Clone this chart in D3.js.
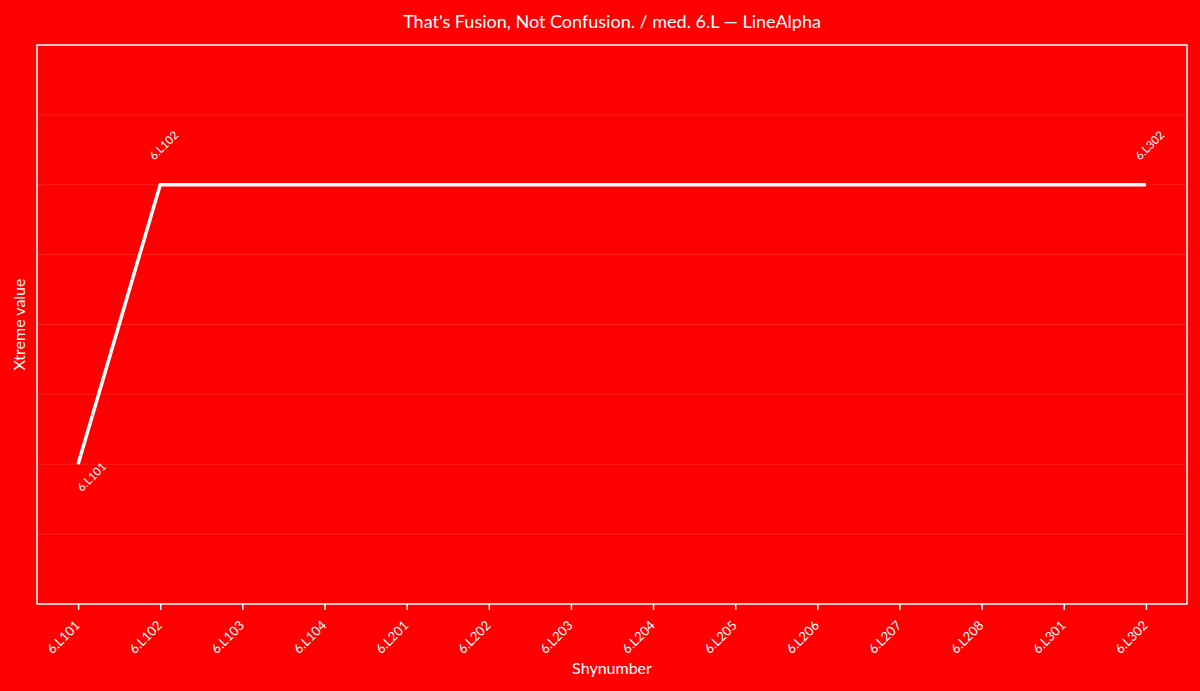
<!DOCTYPE html>
<html>
<head>
<meta charset="utf-8">
<script src="https://cdn.jsdelivr.net/npm/d3@7"></script>
<style>
  body { margin: 0; background: #ff0000; }
  svg text { font-family: "Source Sans Pro", Lato, "Noto Sans", sans-serif; fill: #fff; }
</style>
</head>
<body>
<div id="chart"></div>
<script>

// categories on the x axis
var shynumbers = ["6.L101", "6.L102", "6.L103", "6.L104", "6.L201", "6.L202", "6.L203",
	"6.L204", "6.L205", "6.L206", "6.L207", "6.L208", "6.L301", "6.L302"];

// the points that were drawn
var pointNames  = ["6.L101", "6.L102", "6.L302"];
var pointValues = [2, 6, 6];

var yDomain = [0, 8];
var yTicks  = [1, 2, 3, 4, 5, 6, 7];

var width  = 1200;
var height = 691;
var margin = {top: 45, right: 13, bottom: 87, left: 37};

var svg = d3.select("#chart")
	.append("svg")
	.attr("width", width)
	.attr("height", height);

svg.append("rect")
	.attr("width", width)
	.attr("height", height)
	.attr("fill", "#ff0000");

var x = d3.scalePoint()
	.domain(shynumbers)
	.range([margin.left, width - margin.right])
	.padding(0.5);

var y = d3.scaleLinear()
	.domain(yDomain)
	.range([height - margin.bottom, margin.top]);

// gridlines
svg.append("g")
	.selectAll("line")
	.data(yTicks)
	.enter().append("line")
	.attr("x1", margin.left)
	.attr("x2", width - margin.right)
	.attr("y1", function(d) { return y(d); })
	.attr("y2", function(d) { return y(d); })
	.attr("stroke", "#ffffff")
	.attr("stroke-opacity", 0.12)
	.attr("stroke-width", 1);

// frame
svg.append("rect")
	.attr("x", margin.left)
	.attr("y", margin.top)
	.attr("width", width - margin.left - margin.right)
	.attr("height", height - margin.top - margin.bottom)
	.attr("fill", "none")
	.attr("stroke", "#fff")
	.attr("stroke-width", 1.5);

// x axis
var xAxis = svg.append("g")
	.attr("transform", "translate(0," + (height - margin.bottom) + ")")
	.call(d3.axisBottom(x).tickSize(6).tickSizeOuter(0));

xAxis.select(".domain").remove();
xAxis.selectAll(".tick line").attr("stroke", "#fff").attr("stroke-width", 1.5);
xAxis.selectAll(".tick text")
	.attr("font-size", 13)
	.attr("text-anchor", "end")
	.attr("x", 0)
	.attr("y", 0)
	.attr("dy", "0.35em")
	.attr("transform", "translate(-1,19) rotate(-45)")
	.attr("fill", "#fff");

// axis titles
svg.append("text")
	.attr("x", (margin.left + width - margin.right) / 2)
	.attr("y", 674)
	.attr("text-anchor", "middle")
	.attr("font-size", 16)
	.text("Shynumber");

svg.append("text")
	.attr("transform", "translate(25," + ((margin.top + height - margin.bottom) / 2) + ") rotate(-90)")
	.attr("text-anchor", "middle")
	.attr("font-size", 16)
	.text("Xtreme value");

// title
svg.append("text")
	.attr("x", 612)
	.attr("y", 28)
	.attr("text-anchor", "middle")
	.attr("font-size", 18)
	.text("That's Fusion, Not Confusion. / med. 6.L \u2014 LineAlpha");

// the line
var pts = [];
for (i = 0; i < pointNames.length; i++) {
	pts.push({name: pointNames[i], value: pointValues[i]});
}

var line = d3.line()
	.x(function(d) { return x(d.name); })
	.y(function(d) { return y(d.value); });

svg.append("path")
	.datum(pts)
	.attr("d", line)
	.attr("fill", "none")
	.attr("stroke", "#fff")
	.attr("stroke-width", 3.5);

var minVal = d3.min(pointValues);

svg.append("g")
	.selectAll("text")
	.data(pts)
	.enter().append("text")
	.attr("font-size", 11.5)
	.attr("transform", function(d) {
		var below = d.value == minVal;
		var px = below ? x(d.name) + 4 : x(d.name) - 6;
		var py = below ? y(d.value) + 28 : y(d.value) - 24;
		return "translate(" + px + "," + py + ") rotate(-45)";
	})
	.text(function(d) { return d.name; });

</script>
</body>
</html>
